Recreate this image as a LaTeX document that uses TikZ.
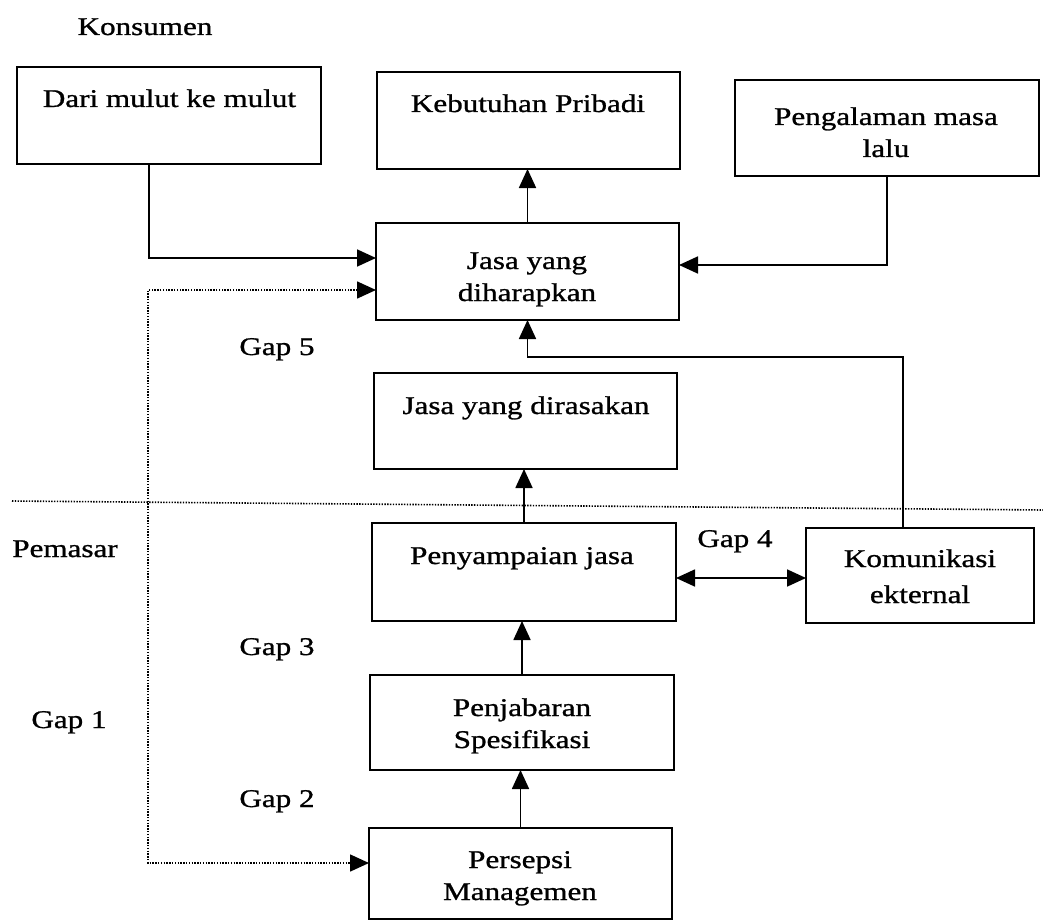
\documentclass[tikz,border=0pt]{standalone}
\usepackage{fontspec}
\setmainfont{Liberation Serif}[FakeStretch=1.22,FakeBold=1]
\usetikzlibrary{arrows.meta}
\begin{document}
\begin{tikzpicture}[x=1pt,y=-1pt,
  box/.style={draw,line width=1.8pt,inner sep=0pt,outer sep=0pt},
  txt/.style={anchor=base,inner sep=0pt,align=center,font=\fontsize{25.5}{32}\selectfont},
  arr/.style={line width=1.8pt,-{Triangle[length=19pt,width=17pt]}},
  dbl/.style={line width=1.8pt,{Triangle[length=19pt,width=17pt]}-{Triangle[length=19pt,width=17pt]}},
  dotline/.style={line width=1.6pt,dash pattern=on 1.4pt off 1.4pt}]
\useasboundingbox (0,0) rectangle (1043,920);

% boxes
\node[box,minimum width=304pt,minimum height=97pt] (dari) at (169,115.5) {};
\node[box,minimum width=303pt,minimum height=97pt] (keb) at (528.5,120.5) {};
\node[box,minimum width=304pt,minimum height=96pt] (peng) at (887,128) {};
\node[box,minimum width=303pt,minimum height=97pt] (harap) at (527.5,271.5) {};
\node[box,minimum width=303pt,minimum height=96pt] (rasa) at (525.5,421) {};
\node[box,minimum width=304pt,minimum height=98pt] (nyampai) at (524,572) {};
\node[box,minimum width=228pt,minimum height=95pt] (komu) at (920,575.5) {};
\node[box,minimum width=304pt,minimum height=95pt] (jabar) at (522,722.5) {};
\node[box,minimum width=303pt,minimum height=91pt] (persepsi) at (520.5,873.5) {};

% box texts (multi-line texts are placed by the baseline of their last line)
\node[txt] (tdari) at (169.5,107) {Dari mulut ke mulut};
\node[txt] (tkeb) at (528,112) {Kebutuhan Pribadi};
\node[txt] (tpeng) at (886,157) {Pengalaman masa\\lalu};
\node[txt] (tharap) at (527,301) {Jasa yang\\diharapkan};
\node[txt] (trasa) at (526,414) {Jasa yang dirasakan};
\node[txt] (tnyampai) at (522,564) {Penyampaian jasa};
\node[txt,font=\fontsize{25.5}{36}\selectfont] (tkomu) at (920,603) {Komunikasi\\ekternal};
\node[txt] (tjabar) at (522,748) {Penjabaran\\Spesifikasi};
\node[txt] (tpersepsi) at (520,900) {Persepsi\\Managemen};

% free labels
\node[txt] (konsumen) at (145,35) {Konsumen};
\node[txt] (pemasar) at (65,557) {Pemasar};
\node[txt] (gap5) at (277,355) {Gap 5};
\node[txt] (gap4) at (735,547) {Gap 4};
\node[txt] (gap3) at (277,655) {Gap 3};
\node[txt] (gap1) at (69,728) {Gap 1};
\node[txt] (gap2) at (277,807) {Gap 2};

% bend points
\coordinate (dm) at (149,258);
\coordinate (gt) at (148,290);
\coordinate (gb) at (148,863);
\coordinate (pl) at (887,265);
\coordinate (kk) at (903,357);
\coordinate (nk) at (0,578);
\coordinate (sepL) at (12,501);
\coordinate (sepR) at (1043,510);

% consumer / marketer divider
\draw[dotline] (sepL) -- (sepR);

% connectors
\draw[arr] (dari.south -| dm) -- (dm) -- (harap.west |- dm);
\draw[arr] (peng.south -| pl) -- (pl) -- (harap.east |- pl);
\draw[arr] (harap.north) -- (keb.south -| harap.north);
\draw[arr] (komu.north -| kk) -- (kk) -| (harap.south);
\draw[arr] (nyampai.north) -- (rasa.south -| nyampai.north);
\draw[dbl] (nyampai.east |- nk) -- (komu.west |- nk);
\draw[arr] (jabar.north) -- (nyampai.south -| jabar.north);
\draw[arr] (persepsi.north) -- (jabar.south -| persepsi.north);
\draw[dotline,{Triangle[length=19pt,width=17pt]}-{Triangle[length=19pt,width=17pt]}]
  (harap.west |- gt) -- (gt) -- (gb) -- (persepsi.west |- gb);
\end{tikzpicture}
\end{document}
